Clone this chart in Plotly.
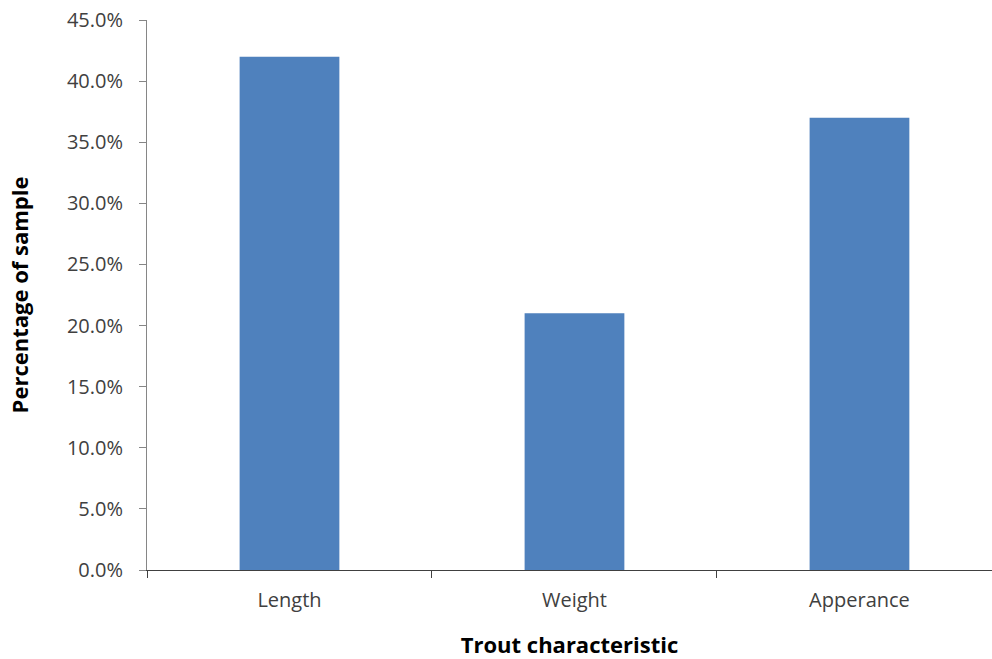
import plotly.graph_objects as go

# Share of the sample ranking each trout characteristic
characteristics = ["Length", "Weight", "Apperance"]
share_of_sample = [0.42, 0.21, 0.37]

bar_color = "#4F81BD"
axis_color = "#868686"
tick_font = dict(family="Open Sans", size=20, color="#404040")
title_font = dict(family="Open Sans", size=22, color="#000000")

fig = go.Figure(
    go.Bar(
        x=characteristics,
        y=share_of_sample,
        marker=dict(color=bar_color, line=dict(width=0)),
        width=0.35,
    )
)

fig.update_layout(
    width=992,
    height=659,
    margin=dict(l=147, r=0, t=20, b=89),
    paper_bgcolor="white",
    plot_bgcolor="white",
    showlegend=False,
)

fig.update_xaxes(
    type="category",
    range=[-0.5, 2.465],
    showline=True,
    linecolor="#404040",
    linewidth=1,
    ticks="outside",
    tickson="boundaries",
    ticklen=7,
    tickcolor="#404040",
    tickfont=tick_font,
    ticklabelstandoff=12,
    showgrid=False,
    title=dict(text="<b>Trout characteristic</b>", font=title_font, standoff=28),
)

fig.update_yaxes(
    range=[0, 0.45],
    dtick=0.05,
    tickformat=".1%",
    showline=True,
    linecolor=axis_color,
    linewidth=1,
    ticks="outside",
    ticklen=7,
    tickcolor=axis_color,
    tickfont=tick_font,
    ticklabelstandoff=12,
    showgrid=False,
    zeroline=False,
    title=dict(text="<b>Percentage of sample</b>", font=title_font, standoff=32),
)

fig.write_html("out.html")
